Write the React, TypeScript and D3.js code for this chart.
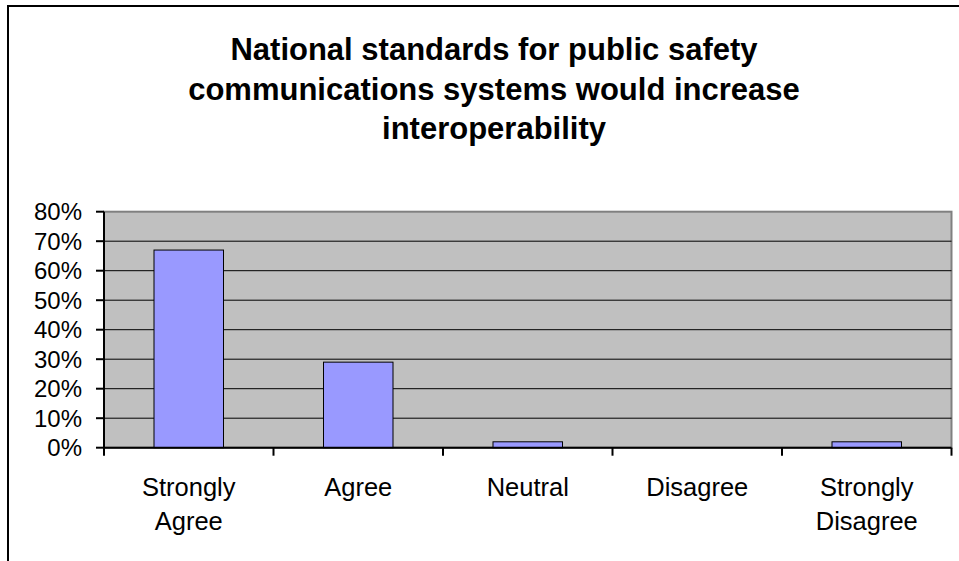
import React from "react";
import * as d3 from "d3";

const categories: string[][] = [
  ["Strongly", "Agree"],
  ["Agree"],
  ["Neutral"],
  ["Disagree"],
  ["Strongly", "Disagree"],
];
const values: number[] = [0.67, 0.29, 0.02, 0, 0.02];
const yTicks: number[] = [0, 0.1, 0.2, 0.3, 0.4, 0.5, 0.6, 0.7, 0.8];
const titleLines: string[] = [
  "National standards for public safety",
  "communications systems would increase",
  "interoperability",
];

const W = 959;
const H = 561;
const plot = { left: 104, right: 951.5, top: 211.7, bottom: 447.7 };
const font = "'Liberation Sans', Arial, sans-serif";

export default function App() {
  const keys = categories.map((_, i) => String(i));
  const x = d3
    .scaleBand<string>()
    .domain(keys)
    .range([plot.left, plot.right])
    .paddingInner(0.59)
    .paddingOuter(0.295);
  const xOuter = d3.scaleBand<string>().domain(keys).range([plot.left, plot.right]);
  const y = d3.scaleLinear().domain([0, 0.8]).range([plot.bottom, plot.top]);
  const fmt = d3.format(".0%");

  return (
    <svg
      width={W}
      height={H}
      style={{ position: "absolute", left: 0, top: 0, background: "#fff" }}
      fontFamily={font}
    >
      <rect x={8} y={6} width={980} height={600} fill="#fff" stroke="#000" strokeWidth={2} />
      {titleLines.map((t, i) => (
        <text
          key={i}
          x={494}
          y={60 + i * 39.5}
          textAnchor="middle"
          fontSize={31}
          fontWeight="bold"
        >
          {t}
        </text>
      ))}
      <rect
        x={plot.left}
        y={plot.top}
        width={plot.right - plot.left}
        height={plot.bottom - plot.top}
        fill="#C0C0C0"
        stroke="#808080"
        strokeWidth={2}
      />
      {yTicks.slice(1, -1).map((t) => (
        <line key={t} x1={plot.left} x2={plot.right} y1={y(t)} y2={y(t)} stroke="#000" strokeWidth={1} />
      ))}
      {values.map((v, i) => (
        <rect
          key={i}
          x={x(keys[i])!}
          y={y(v)}
          width={x.bandwidth()}
          height={plot.bottom - y(v)}
          fill="#9999FF"
          stroke="#000"
          strokeWidth={1}
          style={{ display: v > 0 ? undefined : "none" }}
        />
      ))}
      <line x1={plot.left} x2={plot.left} y1={plot.top} y2={plot.bottom} stroke="#000" strokeWidth={2} />
      <line x1={plot.left} x2={plot.right} y1={plot.bottom} y2={plot.bottom} stroke="#000" strokeWidth={2} />
      {yTicks.map((t) => (
        <g key={t}>
          <line x1={plot.left - 8} x2={plot.left} y1={y(t)} y2={y(t)} stroke="#000" strokeWidth={2} />
          <text x={82} y={y(t)} dy="0.36em" textAnchor="end" fontSize={24}>
            {fmt(t)}
          </text>
        </g>
      ))}
      {keys.concat(["end"]).map((k, i) => {
        const xx = i < keys.length ? xOuter(k)! : plot.right;
        return <line key={k} x1={xx} x2={xx} y1={plot.bottom} y2={plot.bottom + 8} stroke="#000" strokeWidth={2} />;
      })}
      {categories.map((lines, i) => (
        <text
          key={i}
          x={xOuter(keys[i])! + xOuter.bandwidth() / 2}
          textAnchor="middle"
          fontSize={25.5}
        >
          {lines.map((l, j) => (
            <tspan key={j} x={xOuter(keys[i])! + xOuter.bandwidth() / 2} y={496 + j * 34}>
              {l}
            </tspan>
          ))}
        </text>
      ))}
    </svg>
  );
}
